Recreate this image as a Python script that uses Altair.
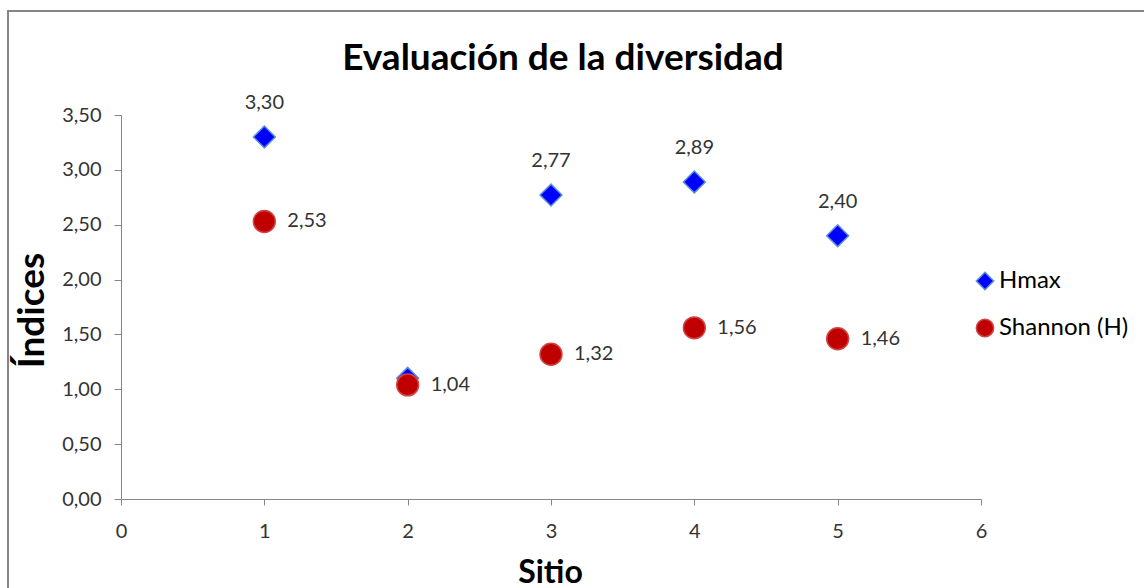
import altair as alt
import pandas as pd

titulo = "Evaluación de la diversidad"
sitios = [1, 2, 3, 4, 5]
hmax = [3.30, 1.10, 2.77, 2.89, 2.40]
shannon = [2.53, 1.04, 1.32, 1.56, 1.46]
hmax_label_shown = [True, False, True, True, True]
series_names = ["Hmax", "Shannon (H)"]
x_ticks = [0, 1, 2, 3, 4, 5, 6]
y_ticks = [0, 0.5, 1.0, 1.5, 2.0, 2.5, 3.0, 3.5]

rows = []
for s, v, show in zip(sitios, hmax, hmax_label_shown):
    rows.append({"sitio": s, "valor": v, "serie": series_names[0], "show": show})
for s, v in zip(sitios, shannon):
    rows.append({"sitio": s, "valor": v, "serie": series_names[1], "show": True})
df = pd.DataFrame(rows)

FONT = "Lato"
AX = "#868686"

x = alt.X("sitio:Q", scale=alt.Scale(domain=[0, 6], nice=False, zero=False),
          axis=alt.Axis(values=x_ticks, title="Sitio", grid=False, domainColor=AX, tickColor=AX,
                        tickSize=6, labelPadding=16, labelFontSize=20, labelColor="#333333",
                        labelFont=FONT, titleFont=FONT, titleFontSize=32, titleFontWeight="bold",
                        titleColor="#000000", titleX=429, titleY=83, titleBaseline="alphabetic",
                        format="d", labelFlush=False))
y = alt.Y("valor:Q", scale=alt.Scale(domain=[0, 3.5], nice=False),
          axis=alt.Axis(values=y_ticks, title="Índices", grid=False, domainColor=AX, tickColor=AX,
                        tickSize=7, labelPadding=13, labelFontSize=20, labelColor="#333333",
                        labelFont=FONT, titleFont=FONT, titleFontSize=37, titleFontWeight="bold",
                        titleColor="#000000", titleAngle=-90, titleX=-78, titleY=195,
                        titleBaseline="alphabetic", titleAlign="center", labelFlush=False,
                        labelExpr="replace(format(datum.value, '.2f'), '.', ',')"))

base = alt.Chart(df)

points = base.mark_point(filled=True, size=480, strokeWidth=1.5, opacity=1).encode(
    x=x, y=y,
    color=alt.Color("serie:N", scale=alt.Scale(domain=series_names, range=["#0000FF", "#C00000"]), title=None),
    stroke=alt.Stroke("serie:N", scale=alt.Scale(domain=series_names, range=["#5B8FD8", "#D04545"]), title=None),
    shape=alt.Shape("serie:N", scale=alt.Scale(domain=series_names, range=["diamond", "circle"]), title=None),
    order=alt.Order("serie:N"),
)

label_calc = "replace(format(datum.valor, '.2f'), '.', ',')"

hmax_labels = base.transform_filter(
    (alt.datum.serie == series_names[0]) & (alt.datum.show == True)
).transform_calculate(lbl=label_calc).mark_text(
    dy=-34, fontSize=20, font=FONT, color="#333333", align="center", baseline="middle"
).encode(x="sitio:Q", y="valor:Q", text="lbl:N")

sh_labels = base.transform_filter(
    alt.datum.serie == series_names[1]
).transform_calculate(lbl=label_calc).mark_text(
    dx=23, fontSize=20, font=FONT, color="#333333", align="left", baseline="middle"
).encode(x="sitio:Q", y="valor:Q", text="lbl:N")

one = pd.DataFrame({"t": [titulo]})

frame = alt.Chart(one).mark_rect(
    filled=False, stroke="#868686", strokeWidth=2
).encode(x=alt.value(-113), x2=alt.value(1200), y=alt.value(-104), y2=alt.value(700))

title_mark = alt.Chart(one).mark_text(
    font=FONT, fontSize=37, fontWeight="bold", color="#000000", align="center", baseline="alphabetic"
).encode(x=alt.value(442), y=alt.value(-45), text="t:N")

chart = alt.layer(frame, title_mark, points, hmax_labels, sh_labels).properties(
    width=860, height=384,
    autosize=alt.AutoSizeParams(type="none"),
    padding={"left": 121, "top": 115, "right": 163, "bottom": 89},
).configure_view(stroke=None).configure_legend(
    orient="none", legendX=852, legendY=154, padding=0, rowPadding=23,
    labelFont=FONT, labelFontSize=24, labelColor="#000000", symbolSize=300,
    symbolStrokeWidth=1.5, labelOffset=2,
)

chart.save("out.html", embed_options={"renderer": "svg", "actions": False})
